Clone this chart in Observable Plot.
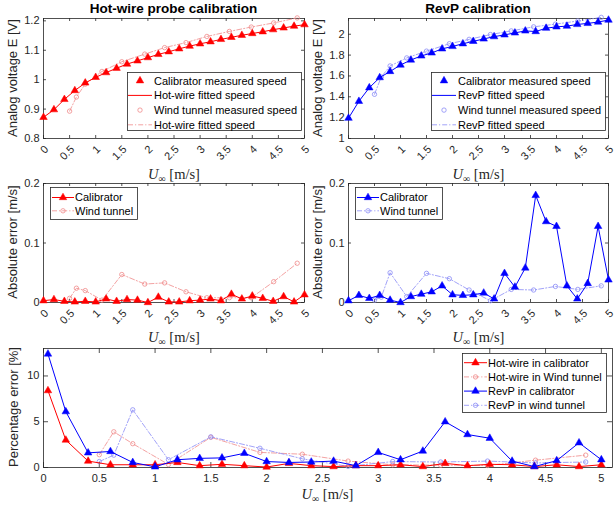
<!DOCTYPE html>
<html><head><meta charset="utf-8">
<script src="https://cdn.jsdelivr.net/npm/d3@7"></script>
<script src="https://cdn.jsdelivr.net/npm/@observablehq/plot@0.6"></script>
<style>
body{margin:0;background:#fff;}
#wrap{position:relative;width:615px;height:507px;overflow:hidden;font-family:"Liberation Sans",Arial,sans-serif;color:#262626;background:#fff;}
#wrap svg{position:absolute;overflow:visible;}
.title{position:absolute;font-weight:bold;font-size:13.5px;line-height:16px;color:#000;transform:translateX(-50%);white-space:nowrap;}
.ylab{position:absolute;font-size:13px;line-height:14px;white-space:nowrap;transform:translate(-50%,-50%) rotate(-90deg);color:#262626;}
.xlab{position:absolute;font-family:"Liberation Serif","DejaVu Serif",serif;font-size:14.5px;line-height:15px;transform:translateX(-50%);white-space:nowrap;color:#262626;}
.xlab sub{font-size:10px;vertical-align:-3px;}
</style></head><body><div id="wrap"></div>
<script>
// ---------------- data ----------------
const calibSpeed = [0,0.2,0.4,0.6,0.8,1.0,1.2,1.4,1.6,1.8,2.0,2.2,2.4,2.6,2.8,3.0,3.2,3.4,3.6,3.8,4.0,4.2,4.4,4.6,4.8,5.0];
const hwCalibE = [0.872,0.898,0.933,0.963,0.989,1.008,1.024,1.039,1.053,1.064,1.075,1.086,1.095,1.105,1.114,1.122,1.129,1.137,1.144,1.151,1.157,1.163,1.170,1.176,1.182,1.187];
const revpCalibE = [1.195,1.357,1.487,1.584,1.643,1.705,1.753,1.792,1.821,1.860,1.883,1.909,1.932,1.955,1.977,1.994,2.013,2.032,2.026,2.058,2.071,2.078,2.094,2.104,2.117,2.136];
const windSpeed = [0.5,0.63,0.8,1.12,1.5,1.94,2.32,2.73,3.13,3.56,3.98,4.41,4.86];
const hwWindE = [0.893,0.941,0.985,1.028,1.061,1.087,1.109,1.126,1.147,1.164,1.179,1.193,1.210];
const revpWindE = [1.424,1.590,1.696,1.773,1.838,1.909,1.951,1.997,2.032,2.071,2.097,2.127,2.162];

const hwCalibAbs = [0.003,0.005,0.002,0.001,0.002,0.001,0.006,0.002,0.005,0.004,0.000,0.009,0.001,0.001,0.003,0.004,0.006,0.003,0.014,0.006,0.011,0.007,0.002,0.010,0.001,0.013];
const revpCalibAbs = [0.003,0.012,0.007,0.012,0.004,0.000,0.010,0.014,0.018,0.028,0.013,0.012,0.013,0.016,0.006,0.049,0.026,0.058,0.180,0.136,0.128,0.028,0.006,0.032,0.128,0.038];
const hwWindAbs = [0.007,0.024,0.020,0.004,0.047,0.031,0.033,0.018,0.008,0.008,0.008,0.035,0.066];
const revpWindAbs = [0.004,0.009,0.050,0.010,0.049,0.040,0.021,0.003,0.022,0.021,0.027,0.022,0.028];

const pctCalibSpeed = [0.04,0.2,0.4,0.6,0.8,1.0,1.2,1.4,1.6,1.8,2.0,2.2,2.4,2.6,2.8,3.0,3.2,3.4,3.6,3.8,4.0,4.2,4.4,4.6,4.8,5.0];
const hwCalibPct = [8.4,3.0,0.7,0.3,0.3,0.3,0.55,0.2,0.35,0.2,0.05,0.45,0.2,0.1,0.2,0.2,0.3,0.1,0.45,0.2,0.35,0.3,0.1,0.3,0.1,0.3];
const revpCalibPct = [12.4,6.1,1.6,1.75,0.55,0.07,0.85,1.0,1.05,1.55,0.65,0.55,0.6,0.7,0.2,1.65,0.85,1.8,5.0,3.6,3.2,0.7,0.1,0.75,2.7,0.85];
const hwWindPct = [1.4,3.9,2.6,0.33,3.3,1.65,1.45,0.7,0.3,0.25,0.22,0.8,1.35];
const revpWindPct = [0.65,1.35,6.3,0.85,3.35,2.1,0.95,0.12,0.65,0.6,0.7,0.5,0.6];

const xTicks = [0,0.5,1,1.5,2,2.5,3,3.5,4,4.5,5];
const hwETicks = [0.8,0.9,1,1.1,1.2];
const revpETicks = [1,1.2,1.4,1.6,1.8,2];
const absTicks = [0,0.1,0.2];
const pctTicks = [0,5,10];

const titles = ["Hot-wire probe calibration", "RevP calibration"];
const yLabels = ["Analog voltage E [V]", "Absolute error [m/s]", "Percentage error [%]"];

// ---------------- style ----------------
const AX = "#262626";
const RED = "#ff0000", BLUE = "#0000ff", LRED = "#f08a8a", LBLUE = "#8a8cf6";
const DASHDOT = "5,2,1.2,2";
const FONT = '"Liberation Sans", Arial, sans-serif';
const wrap = document.getElementById("wrap");

function panel(o) {
  const iw = o.width - o.ml - o.mr, ih = o.height - o.mt - o.mb, tl = o.tl;
  const fmt = d => `${d}`;
  const tk = {stroke: AX, strokeWidth: 0.8};
  const svg = Plot.plot({
    width: o.width, height: o.height,
    marginLeft: o.ml, marginRight: o.mr, marginTop: o.mt, marginBottom: o.mb,
    x: {domain: o.xd}, y: {domain: o.yd},
    style: {fontFamily: FONT, fontSize: "11px", color: AX, background: "transparent", overflow: "visible"},
    marks: [
      Plot.axisX(o.xt, {tickSize: 0, tickPadding: o.xpad, dx: o.xdx, tickRotate: o.rot, tickFormat: fmt, label: null}),
      Plot.axisY(o.yt, {tickSize: 0, tickPadding: 4, tickFormat: fmt, label: null}),
      Plot.tickX(o.xt, {x: d => d, insetTop: ih - tl, ...tk}),
      Plot.tickX(o.xt, {x: d => d, insetBottom: ih - tl, ...tk}),
      Plot.tickY(o.yt, {y: d => d, insetRight: iw - tl, ...tk}),
      Plot.tickY(o.yt, {y: d => d, insetLeft: iw - tl, ...tk}),
      Plot.frame({stroke: AX, strokeWidth: 0.8}),
      ...o.marks
    ]
  });
  svg.style.left = o.left + "px";
  svg.style.top = o.top + "px";
  wrap.appendChild(svg);
}

function calibMarks(xs, ys, color) {
  return [
    Plot.line(xs, {x: xs, y: ys, stroke: color, strokeWidth: 1}),
    Plot.dot(xs, {x: xs, y: ys, symbol: "triangle", fill: color, stroke: color, strokeWidth: 0.5, r: 2.8})
  ];
}
function windMarks(xs, ys, color) {
  return [
    Plot.line(xs, {x: xs, y: ys, stroke: color, strokeWidth: 0.8, strokeDasharray: DASHDOT}),
    Plot.dot(xs, {x: xs, y: ys, symbol: "circle", fill: "none", stroke: color, strokeWidth: 0.8, r: 2.2})
  ];
}

const topCfg = {width: 310, height: 165, ml: 43, mr: 6, mt: 18, mb: 27, tl: 3, xt: xTicks, xd: [0, 5], rot: -45, xpad: 9, xdx: 3};
const midCfg = {width: 310, height: 165, ml: 43, mr: 6, mt: 18, mb: 28, tl: 3, xt: xTicks, xd: [0, 5], rot: -45, xpad: 9, xdx: 3};

panel({...topCfg, left: 0, top: 0, yd: [0.8, 1.208], yt: hwETicks,
  marks: [...windMarks(windSpeed, hwWindE, LRED), ...calibMarks(calibSpeed, hwCalibE, RED)]});
panel({...topCfg, mr: 7, left: 305, top: 0, yd: [1, 2.151], yt: revpETicks,
  marks: [...windMarks(windSpeed, revpWindE, LBLUE), ...calibMarks(calibSpeed, revpCalibE, BLUE)]});
panel({...midCfg, left: 0, top: 165, yd: [0, 0.2], yt: absTicks,
  marks: [...windMarks(windSpeed, hwWindAbs, LRED), ...calibMarks(calibSpeed, hwCalibAbs, RED)]});
panel({...midCfg, mr: 7, left: 305, top: 165, yd: [0, 0.2], yt: absTicks,
  marks: [...windMarks(windSpeed, revpWindAbs, LBLUE), ...calibMarks(calibSpeed, revpCalibAbs, BLUE)]});
panel({width: 615, height: 177, ml: 43, mr: 3, mt: 18, mb: 40, tl: 5, left: 0, top: 330,
  xt: xTicks, xd: [0, 5.1], rot: 0, xpad: 7, xdx: 0, yd: [0, 13], yt: pctTicks,
  marks: [...windMarks(windSpeed, hwWindPct, LRED), ...windMarks(windSpeed, revpWindPct, LBLUE),
          ...calibMarks(pctCalibSpeed, hwCalibPct, RED), ...calibMarks(pctCalibSpeed, revpCalibPct, BLUE)]});

// ---------------- legends ----------------
function legend(o) {
  const svg = d3.create("svg").attr("width", o.w).attr("height", o.h)
    .style("left", o.left + "px").style("top", o.top + "px");
  svg.append("rect").attr("x", 0.5).attr("y", 0.5).attr("width", o.w - 1).attr("height", o.h - 1)
    .attr("fill", "#fff").attr("stroke", AX).attr("stroke-width", 0.8);
  o.rows.forEach((r, i) => {
    const y = o.y0 + i * o.dy, cx = (o.sx0 + o.sx1) / 2;
    if (r.line) svg.append("line").attr("x1", o.sx0).attr("x2", o.sx1).attr("y1", y).attr("y2", y)
      .attr("stroke", r.color).attr("stroke-width", r.line === "dd" ? 0.8 : 1)
      .attr("stroke-dasharray", r.line === "dd" ? DASHDOT : null);
    if (r.sym === "tri") svg.append("path").attr("d", d3.symbol(d3.symbolTriangle, 2.8 * 2.8 * Math.PI)())
      .attr("transform", `translate(${cx},${y})`).attr("fill", r.color).attr("stroke", r.color).attr("stroke-width", 0.5);
    if (r.sym === "circ") svg.append("circle").attr("cx", cx).attr("cy", y).attr("r", 2.2)
      .attr("fill", "none").attr("stroke", r.color).attr("stroke-width", 0.8);
    svg.append("text").attr("x", o.tx).attr("y", y).attr("dy", "0.35em").text(r.label)
      .attr("font-family", FONT).attr("font-size", 11).attr("fill", "#000");
  });
  wrap.appendChild(svg.node());
}

legend({left: 127, top: 72, w: 175, h: 59, y0: 8.7, dy: 14.7, sx0: 1, sx1: 25, tx: 27, rows: [
  {label: "Calibrator measured speed", color: RED, sym: "tri"},
  {label: "Hot-wire fitted speed", color: RED, line: "solid"},
  {label: "Wind tunnel measured speed", color: LRED, sym: "circ"},
  {label: "Hot-wire fitted speed", color: LRED, line: "dd"}]});
legend({left: 431, top: 72, w: 175, h: 59, y0: 8.7, dy: 14.7, sx0: 1, sx1: 25, tx: 27, rows: [
  {label: "Calibrator measured speed", color: BLUE, sym: "tri"},
  {label: "RevP fitted speed", color: BLUE, line: "solid"},
  {label: "Wind tunnel measured speed", color: LBLUE, sym: "circ"},
  {label: "RevP fitted speed", color: LBLUE, line: "dd"}]});
legend({left: 50, top: 187, w: 88, h: 33, y0: 10.5, dy: 13.3, sx0: 2, sx1: 24, tx: 25, rows: [
  {label: "Calibrator", color: RED, sym: "tri", line: "solid"},
  {label: "Wind tunnel", color: LRED, sym: "circ", line: "dd"}]});
legend({left: 355, top: 187, w: 88, h: 33, y0: 10.5, dy: 13.3, sx0: 2, sx1: 24, tx: 25, rows: [
  {label: "Calibrator", color: BLUE, sym: "tri", line: "solid"},
  {label: "Wind tunnel", color: LBLUE, sym: "circ", line: "dd"}]});
legend({left: 462, top: 353, w: 145, h: 60, y0: 9.7, dy: 14.2, sx0: 2, sx1: 25, tx: 26, rows: [
  {label: "Hot-wire in calibrator", color: RED, sym: "tri", line: "solid"},
  {label: "Hot-wire in Wind tunnel", color: LRED, sym: "circ", line: "dd"},
  {label: "RevP in calibrator", color: BLUE, sym: "tri", line: "solid"},
  {label: "RevP in wind tunnel", color: LBLUE, sym: "circ", line: "dd"}]});

// ---------------- text ----------------
function addDiv(cls, html, left, topPx) {
  const d = document.createElement("div");
  d.className = cls; d.innerHTML = html;
  d.style.left = left + "px"; d.style.top = topPx + "px";
  wrap.appendChild(d);
}
addDiv("title", titles[0], 173.5, 1);
addDiv("title", titles[1], 478, 1);
addDiv("ylab", yLabels[0], 13, 78);
addDiv("ylab", yLabels[0], 318, 78);
addDiv("ylab", yLabels[1], 13, 242);
addDiv("ylab", yLabels[1], 318, 242);
addDiv("ylab", yLabels[2], 14, 407);
const xl = "<i>U</i><sub>∞</sub> [m/s]";
addDiv("xlab", xl, 174, 167);
addDiv("xlab", xl, 478.5, 167);
addDiv("xlab", xl, 174, 330);
addDiv("xlab", xl, 478.5, 330);
addDiv("xlab", xl, 327.5, 487);
</script></body></html>
